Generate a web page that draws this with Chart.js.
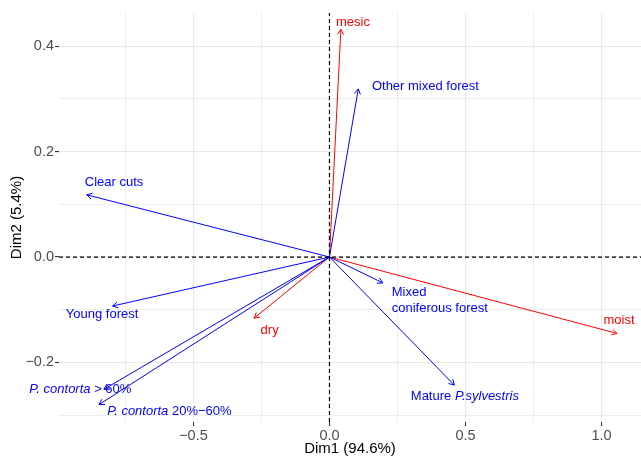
<!DOCTYPE html>
<html>
<head>
<meta charset="utf-8">
<script src="https://cdn.jsdelivr.net/npm/chart.js@4/dist/chart.umd.min.js"></script>
<style>
  html, body { margin: 0; padding: 0; background: #fff; }
  #wrap { width: 641px; height: 458px; }
</style>
</head>
<body>
<div id="wrap"><canvas id="chart"></canvas></div>
<script>
// Correspondence analysis biplot: habitat classes (blue) and moisture (red).
// Label text is a list of lines, each line a list of [text, italic] pieces.
const rowNames = [
  [[["Clear cuts", false]]],
  [[["Young forest", false]]],
  [[["P. contorta", true], [" > 60%", false]]],
  [[["P. contorta", true], [" 20%\u221260%", false]]],
  [[["Mixed", false]], [["coniferous forest", false]]],
  [[["Mature ", false], ["P.sylvestris", true]]],
  [[["Other mixed forest", false]]],
];
const rowDim1 = [-0.892, -0.797, -0.829, -0.847, 0.196, 0.459, 0.106];
const rowDim2 = [0.118, -0.093, -0.251, -0.280, -0.049, -0.243, 0.319];
const rowLabelDim1 = [-0.899, -0.969, -1.103, -0.817, 0.229, 0.299, 0.156];
const rowLabelDim2 = [0.141, -0.109, -0.252, -0.292, -0.082, -0.264, 0.324];

const colNames = [[[["mesic", false]]], [[["dry", false]]], [[["moist", false]]]];
const colDim1 = [0.042, -0.277, 1.057];
const colDim2 = [0.432, -0.116, -0.145];
const colLabelDim1 = [0.024, -0.253, 1.007];
const colLabelDim2 = [0.445, -0.139, -0.120];

const xRange = [-0.994, 1.145];
const yRange = [-0.313, 0.463];

const FONT = "'Liberation Sans', Arial, Helvetica, sans-serif";
const BLUE = "#0000FF";
const RED = "#FF0000";

function arrowSet(dim1, dim2, color) {
  return dim1.map((x, i) => ({
    type: "line",
    data: [{ x: 0, y: 0 }, { x: x, y: dim2[i] }],
    borderColor: color,
    borderWidth: 1,
    pointRadius: 0,
    arrow: true,
  }));
}

function zeroLine(points) {
  return {
    type: "line",
    data: points,
    borderColor: "#000",
    borderWidth: 1.2,
    borderDash: [4, 3],
    pointRadius: 0,
  };
}

const fmt = (v) => (v < 0 ? "\u2212" : "") + Math.abs(v).toFixed(1);

// arrowheads + labels, placed through the chart's own scales
const biplotPlugin = {
  id: "biplot",
  afterDatasetsDraw(chart) {
    const { ctx, scales } = chart;
    const xs = scales.x, ys = scales.y;
    ctx.save();
    chart.data.datasets.forEach((ds) => {
      if (!ds.arrow) return;
      const p0 = ds.data[0], p1 = ds.data[1];
      const x0 = xs.getPixelForValue(p0.x), y0 = ys.getPixelForValue(p0.y);
      const x1 = xs.getPixelForValue(p1.x), y1 = ys.getPixelForValue(p1.y);
      const ang = Math.atan2(y1 - y0, x1 - x0);
      const len = 6, spread = Math.PI / 6;
      ctx.strokeStyle = ds.borderColor;
      ctx.lineWidth = 1;
      ctx.beginPath();
      ctx.moveTo(x1 - len * Math.cos(ang - spread), y1 - len * Math.sin(ang - spread));
      ctx.lineTo(x1, y1);
      ctx.lineTo(x1 - len * Math.cos(ang + spread), y1 - len * Math.sin(ang + spread));
      ctx.stroke();
    });

    const drawLabel = (lines, lx, ly, color) => {
      const px = xs.getPixelForValue(lx);
      const py = ys.getPixelForValue(ly);
      const lh = 15.5;
      const top = py - ((lines.length - 1) * lh) / 2;
      ctx.fillStyle = color;
      ctx.textBaseline = "middle";
      ctx.textAlign = "left";
      lines.forEach((pieces, li) => {
        let cx = px;
        pieces.forEach(([text, italic]) => {
          ctx.font = (italic ? "italic " : "") + "13px " + FONT;
          ctx.fillText(text, cx, top + li * lh);
          cx += ctx.measureText(text).width;
        });
      });
    };
    rowNames.forEach((n, i) => drawLabel(n, rowLabelDim1[i], rowLabelDim2[i], BLUE));
    colNames.forEach((n, i) => drawLabel(n, colLabelDim1[i], colLabelDim2[i], RED));
    ctx.restore();
  },
};

const isMajor = (v, step) => Math.abs(Math.round(v / step) * step - v) < 1e-6;

new Chart(document.getElementById("chart"), {
  type: "line",
  data: {
    datasets: [
      zeroLine([{ x: 0, y: yRange[0] }, { x: 0, y: yRange[1] }]),
      zeroLine([{ x: xRange[0], y: 0 }, { x: xRange[1], y: 0 }]),
      ...arrowSet(rowDim1, rowDim2, BLUE),
      ...arrowSet(colDim1, colDim2, RED),
    ],
  },
  options: {
    responsive: true,
    maintainAspectRatio: false,
    animation: false,
    parsing: false,
    layout: { padding: { top: 13, right: 0, left: 0, bottom: 0 } },
    plugins: { legend: { display: false }, tooltip: { enabled: false } },
    scales: {
      x: {
        type: "linear",
        min: xRange[0],
        max: xRange[1],
        afterFit(scale) { scale.height = 36; },
        border: { display: false },
        grid: {
          color: "#E8E8E8",
          lineWidth: (c) => (isMajor(c.tick.value, 0.5) ? 1.1 : 0.8),
          tickLength: 4,
          tickColor: (c) => (isMajor(c.tick.value, 0.5) ? "#333333" : "rgba(0,0,0,0)"),
        },
        ticks: {
          stepSize: 0.25,
          includeBounds: false,
          autoSkip: false,
          maxRotation: 0,
          padding: 1,
          color: "#4D4D4D",
          font: { family: FONT, size: 14.5 },
          callback: (v) => (isMajor(v, 0.5) ? fmt(v) : ""),
        },
        title: {
          display: true,
          text: "Dim1 (94.6%)",
          color: "#000",
          font: { family: FONT, size: 15 },
          padding: { top: 0, bottom: 0 },
        },
      },
      y: {
        type: "linear",
        min: yRange[0],
        max: yRange[1],
        afterFit(scale) { scale.width = 59; },
        border: { display: false },
        grid: {
          color: "#E8E8E8",
          lineWidth: (c) => (isMajor(c.tick.value, 0.2) ? 1.1 : 0.8),
          tickLength: 4,
          tickColor: (c) => (isMajor(c.tick.value, 0.2) ? "#333333" : "rgba(0,0,0,0)"),
        },
        ticks: {
          stepSize: 0.1,
          includeBounds: false,
          autoSkip: false,
          padding: 1,
          color: "#4D4D4D",
          font: { family: FONT, size: 14.5 },
          callback: (v) => (isMajor(v, 0.2) ? fmt(v) : ""),
        },
        title: {
          display: true,
          text: "Dim2 (5.4%)",
          color: "#000",
          font: { family: FONT, size: 15 },
          padding: { top: 8, bottom: 0 },
        },
      },
    },
  },
  plugins: [biplotPlugin],
});
</script>
</body>
</html>
